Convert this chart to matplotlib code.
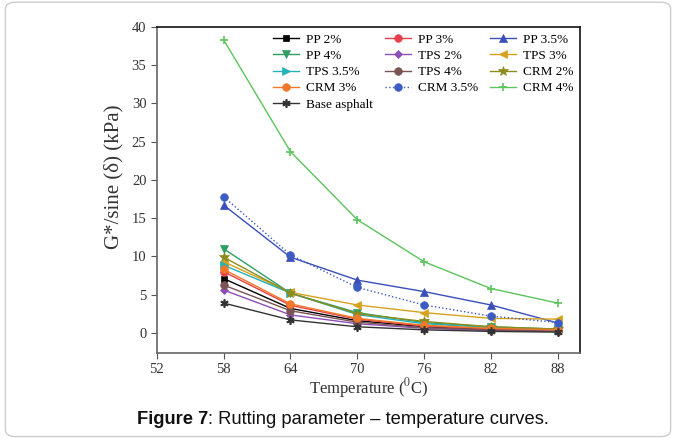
import numpy as np
import matplotlib
matplotlib.use("Agg")
import matplotlib.pyplot as plt
from matplotlib.patches import FancyBboxPatch

# --- data ---
temps = [58, 64, 70, 76, 82, 88]

pp_2   = [7.1, 3.2, 1.6, 0.8, 0.4, 0.3]
pp_3   = [8.0, 3.6, 1.8, 0.9, 0.5, 0.3]
pp_35  = [16.7, 9.9, 6.9, 5.4, 3.65, 1.3]
pp_4   = [11.0, 5.2, 2.65, 1.35, 0.8, 0.5]
tps_2  = [5.6, 2.35, 1.2, 0.6, 0.3, 0.2]
tps_3  = [9.3, 5.3, 3.65, 2.65, 1.9, 1.8]
tps_35 = [8.85, 5.2, 2.4, 1.2, 0.7, 0.4]
tps_4  = [6.25, 2.9, 1.4, 0.7, 0.4, 0.2]
crm_2  = [9.9, 5.2, 2.5, 1.5, 0.8, 0.5]
crm_3  = [8.3, 3.8, 1.9, 1.0, 0.6, 0.4]
crm_35 = [17.8, 10.2, 5.95, 3.65, 2.2, 1.35]
crm_4  = [38.3, 23.7, 14.8, 9.3, 5.8, 3.9]
base   = [3.9, 1.7, 0.8, 0.4, 0.2, 0.1]

labels = ["PP 2%", "PP 3%", "PP 3.5%", "PP 4%", "TPS 2%", "TPS 3%",
          "TPS 3.5%", "TPS 4%", "CRM 2%", "CRM 3%", "CRM 3.5%", "CRM 4%",
          "Base asphalt"]
series = [pp_2, pp_3, pp_35, pp_4, tps_2, tps_3, tps_35, tps_4,
          crm_2, crm_3, crm_35, crm_4, base]
colors = ["#000000", "#e8404a", "#3a4fb8", "#2e9e62", "#8e4fb8", "#d6a21e",
          "#24b2b8", "#7a5454", "#8c8c1e", "#f07828", "#3c5cc4", "#5cc45c",
          "#333333"]
markers = ["s", "o", "^", "v", "D", "<", ">", "o", "*", "o", "o", "+", (6, 2, 0)]
styles = ["-"] * 10 + [":", "-", "-"]
sizes = [5, 5.5, 6, 6, 4.5, 6, 6, 5.5, 7, 5.5, 5.5, 6, 6]

plt.rcParams["font.family"] = ["Liberation Serif", "DejaVu Serif"]
plt.rcParams["mathtext.fontset"] = "stix"

fig = plt.figure(figsize=(6.76, 4.41), dpi=100)
ax = fig.add_axes([0.232, 0.200, 0.626, 0.739])

handles = []
for vals, lab, c, m, ls, ms in zip(series, labels, colors, markers, styles, sizes):
    h, = ax.plot(temps, vals, color=c, marker=m, linestyle=ls, markersize=ms,
                 linewidth=1.0, label=lab,
                 markeredgewidth=1.2 if m in ("+", (6, 2, 0)) else 0.5,
                 markeredgecolor=c)
    handles.append(h)

ax.set_xlim(52, 90)
ax.set_ylim(-2.6, 40)
ax.set_xticks(range(52, 89, 6))
ax.set_yticks(range(0, 41, 5))
ax.tick_params(direction="out", labelsize=10.5, length=4, color="#555555", labelcolor="#333333")
for s in ["left", "bottom"]:
    ax.spines[s].set_color("#666666")
    ax.spines[s].set_linewidth(1.2)
for s in ["top", "right"]:
    ax.spines[s].set_color("#111111")
    ax.spines[s].set_linewidth(1.2)

ax.set_xlabel(r"Temperature ($^{0}$C)", fontsize=12, labelpad=-0.5, color="#333333")
ax.set_ylabel("G*/sine (δ) (kPa)", fontsize=15, color="#333333")
ax.yaxis.set_label_coords(-0.078, 0.54)

# legend filled row by row, as in the original
order = [0, 3, 6, 9, 12, 1, 4, 7, 10, 2, 5, 8, 11]
ax.legend([handles[i] for i in order], [labels[i] for i in order],
          ncol=3, loc="upper right", bbox_to_anchor=(1.0, 1.0), frameon=False,
          fontsize=9.5, handlelength=2.0, handletextpad=0.5, columnspacing=0.9,
          labelspacing=0.3, borderaxespad=0.3, borderpad=0.2)

# light border round the figure
fig.patches.append(FancyBboxPatch((0.008, 0.01), 0.984, 0.985,
                                  boxstyle="round,pad=0,rounding_size=0.015",
                                  transform=fig.transFigure, fill=False,
                                  edgecolor="#cccccc", linewidth=1.0))

# caption
t1 = fig.text(0.203, 0.038, "Figure 7", fontsize=13.2, fontweight="bold",
              family="Liberation Sans", color="#111111")
fig.canvas.draw()
bb = t1.get_window_extent()
x2 = bb.x1 / fig.bbox.width
fig.text(x2, 0.038, ": Rutting parameter – temperature curves.", fontsize=13.2,
         family="Liberation Sans", color="#111111")

fig.savefig("out.png", dpi=100)
